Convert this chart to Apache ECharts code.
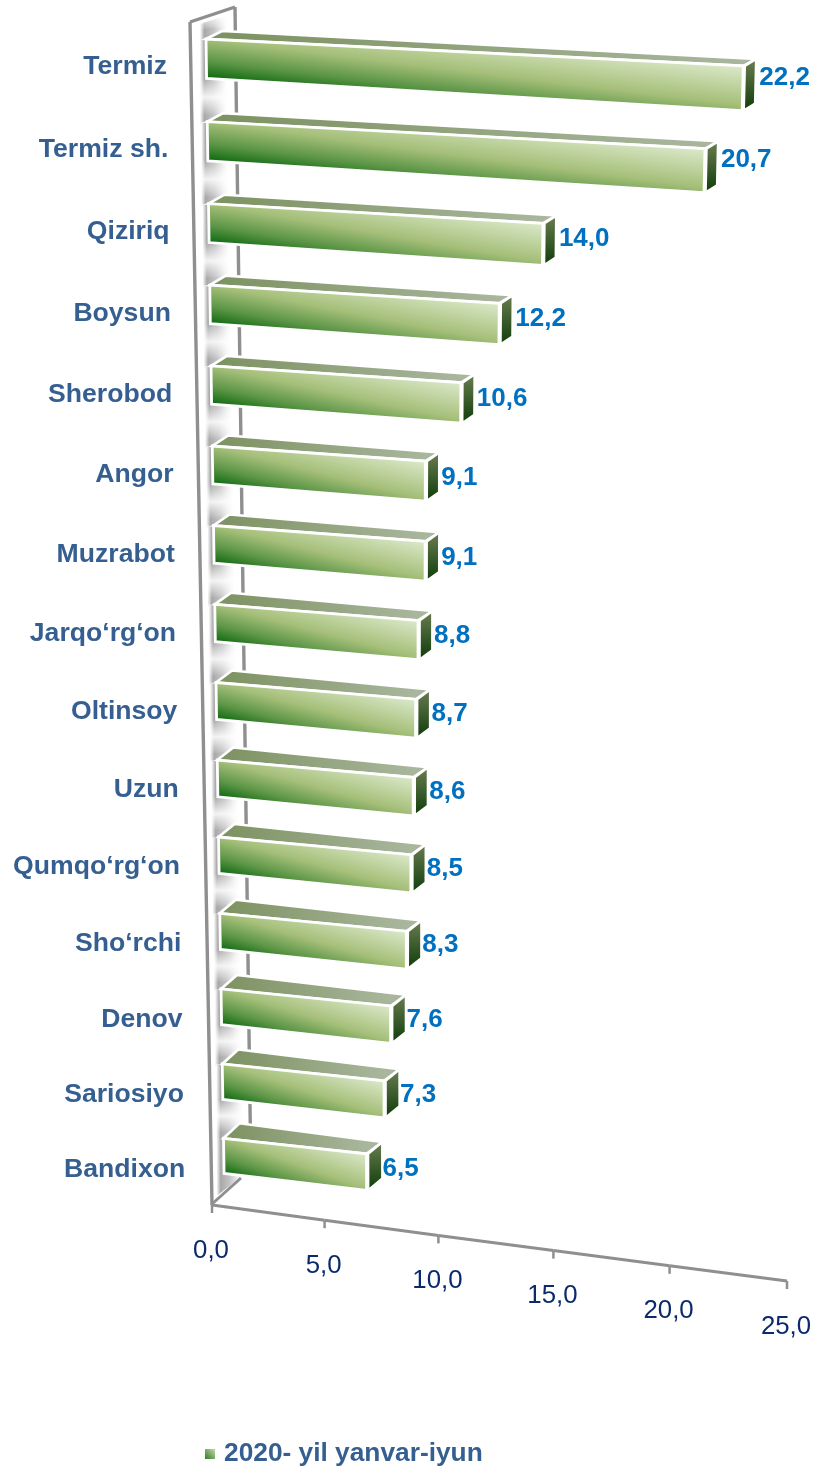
<!DOCTYPE html>
<html><head><meta charset="utf-8">
<style>html,body{margin:0;padding:0;background:#fff}#c{width:816px;height:1466px}</style>
<script src="https://cdn.jsdelivr.net/npm/echarts@6/dist/echarts.min.js"></script>
</head><body><div id="c"></div>
<script>
const categories = ['Termiz','Termiz sh.','Qiziriq','Boysun','Sherobod','Angor','Muzrabot','Jarqo‘rg‘on','Oltinsoy','Uzun','Qumqo‘rg‘on','Sho‘rchi','Denov','Sariosiyo','Bandixon'];
const values = [22.2,20.7,14.0,12.2,10.6,9.1,9.1,8.8,8.7,8.6,8.5,8.3,7.6,7.3,6.5];
const axisTicks = [0,5,10,15,20,25];
const tickLabels = ['0,0','5,0','10,0','15,0','20,0','25,0'];
const seriesName = '2020- yil yanvar-iyun';
const AX_MAX = 25, W = 816, H = 1466, BAR_H = 0.476;

const FONT = 'Liberation Sans, Arial, sans-serif';
const fmt = v => v.toFixed(1).replace('.', ',');

// the category/value scales give (v, row); this lays them on the tilted plane
function toPlane(pt){ return [pt[0]/W*AX_MAX, pt[1]/H*categories.length - 0.5]; }
function rowLeft(r){ return 206 + 1.25*r; }
function rowTop(r){ return 39 + 83*r - 0.32*r*r; }
function proj(v, r, extra){
  const k = 24.2 - 0.157*r, s = 0.05 + 0.0042*r + (extra||0);
  return [rowLeft(r) + v*k, rowTop(r) + v*k*s];
}
function grad(x,y,x2,y2,stops){
  return {type:'linear',global:true,x,y,x2,y2,colorStops:stops.map(s=>({offset:s[0],color:s[1]}))};
}
function poly(points, fill, stroke, lw){
  return {type:'polygon',shape:{points},style:{fill,stroke:stroke||null,lineWidth:lw||0,lineJoin:'miter'},silent:true};
}
function line(a,b,color,lw){
  return {type:'line',shape:{x1:a[0],y1:a[1],x2:b[0],y2:b[1]},style:{stroke:color,lineWidth:lw},silent:true};
}
function text(str,x,y,fill,font,align){
  return {type:'text',style:{text:str,x,y,fill,font,textAlign:align||'left',textVerticalAlign:'middle'},silent:true};
}
const GRAY = '#8f8f8f';
const ribbonStops = [[0,'#ffffff'],[0.16,'#a8a8a8'],[0.5,'#c4c4c4'],[0.82,'#eeeeee'],[1,'#ffffff']];

function ribbonChunk(i, y1, y2, skewTop){
  const xl = rowLeft(i)-6, xr = xl+27;
  return poly([[xl,y1],[xr,y1+skewTop],[xr,y2],[xl,y2]], grad(xl,0,xr,0,ribbonStops));
}
function gapBand(xl, yMid, half){
  const xr = xl+28, sk=-4;
  return poly([[xl-1,yMid-half],[xr,yMid-half+sk],[xr,yMid+half+sk],[xl-1,yMid+half]],
    grad(xl,yMid-half,xl,yMid+half,[[0,'rgba(255,255,255,0)'],[0.5,'rgba(255,255,255,0.85)'],[1,'rgba(255,255,255,0)']]));
}
function renderWall(params, api){
  if(params.dataIndex!==0) return;
  const ch=[];
  const n=categories.length;
  const x0=rowLeft(0)-6;
  ch.push(ribbonChunk(0, 24, rowTop(0)+2, -9));
  ch.push(poly([[x0-1,12],[x0+28,12],[x0+28,26],[x0-1,30]],grad(0,14,0,30,[[0,'#ffffff'],[1,'rgba(255,255,255,0)']])));
  for(let i=0;i<n-1;i++){
    ch.push(ribbonChunk(i, rowTop(i), rowTop(i+1)+2, 0));
    const yb=rowTop(i+BAR_H), yt=rowTop(i+1)-6;
    ch.push(gapBand(rowLeft(i)-6,(yb+yt)/2,(yt-yb)/2));
  }
  const xl=rowLeft(n-1)-7;
  ch.push(poly([[xl,rowTop(n-1)],[xl+26,rowTop(n-1)],[xl+26,1176],[xl,1196]],grad(xl,0,xl+26,0,ribbonStops)));
  ch.push(line([190,22],[212,1205],GRAY,3.4));
  ch.push(line([190,22],[235,7],GRAY,3.4));
  ch.push(line([235,7],[251,1178],GRAY,3.4));
  ch.push(line([212,1204],[241,1178],GRAY,3));
  return {type:'group',children:ch};
}

function axisPoint(v){ return [212 + 22.4*v + 0.024*v*v, 1205 + 3.04*v]; }
function renderAxis(params, api){
  const v = toPlane(api.coord([api.value(0),0]))[0];
  const i = params.dataIndex, p = axisPoint(v), ch=[line(p,[p[0],p[1]+8],GRAY,2.5)];
  if(i<axisTicks.length-1) ch.push(line(p,axisPoint(axisTicks[i+1]),GRAY,3));
  ch.push(text(tickLabels[i],p[0]-1,p[1]+45.5,'#0A2A6B','25.8px '+FONT,'center'));
  return {type:'group',children:ch};
}

function renderBar(params, api){
  const q = toPlane(api.coord([api.value(0),api.value(1)]));
  const v=q[0], r=q[1], i=params.dataIndex;
  const TL=proj(0,r), TR=proj(v,r), BL=proj(0,r+BAR_H), BR=proj(v,r+BAR_H,0.008);
  const dL=[16,-(8+0.5*r)], dR=[13+0.2*r,-(7+0.35*r)];
  const SR=[TR[0]+1.5,TR[1]], SRB=[BR[0]+1.5,BR[1]];
  const bTL=[TL[0]+dL[0],TL[1]+dL[1]], bTR=[TR[0]+dR[0],TR[1]+dR[1]], bBR=[BR[0]+dR[0],BR[1]+dR[1]];
  const ww=TR[0]-TL[0], hh=BL[1]-TL[1], sl=(TR[1]-TL[1])/ww;
  const a=0.5/ww+0.5*sl/hh, b=-0.5/hh, n2=a*a+b*b;
  const front=grad(BL[0],BL[1],BL[0]+a/n2,BL[1]+b/n2,[[0,'#0d680f'],[0.22,'#5b9546'],[0.5,'#a5bf79'],[1,'#dce9cb']]);
  const top=grad(TL[0],0,TR[0],0,[[0,'#7c9160'],[1,'#a9b69d']]);
  const side=grad(0,bTR[1],0,BR[1],[[0,'#6a7d50'],[1,'#0f3c0a']]);
  const W1='#ffffff';
  return {type:'group',children:[
    poly([TL,bTL,bTR,TR],top,W1,2.6),
    poly([SR,bTR,bBR,SRB],side,W1,2.6),
    poly([TL,TR,BR,BL],front,W1,2.8),
    text(categories[i],167+1.3*r,rowTop(r)+27.5+0.25*r,'#365F91','bold 26.6px '+FONT,'right'),
    text(fmt(api.value(0)),TR[0]+16,rowTop(r)+27+0.55*v,'#0070C0','bold 26px '+FONT,'left')
  ]};
}

const chart = echarts.init(document.getElementById('c'),null,{width:W,height:H});
chart.setOption({
  animation:false,
  tooltip:{show:false},
  grid:{left:0,top:0,right:0,bottom:0,containLabel:false},
  xAxis:{type:'value',min:0,max:AX_MAX,show:false},
  yAxis:{type:'category',inverse:true,data:categories,show:false},
  legend:{data:[seriesName],left:200,top:1436,icon:'rect',itemWidth:10,itemHeight:10,padding:[5,5],
    selectedMode:false,textStyle:{color:'#365F91',fontFamily:FONT,fontWeight:'bold',fontSize:26.3,padding:[0,0,0,4]}},
  series:[
    {type:'custom',renderItem:renderWall,clip:false,silent:true,data:values.map((v,i)=>[0,i]),encode:{x:0,y:1},z:1},
    {type:'custom',renderItem:renderAxis,clip:false,silent:true,data:axisTicks.map(t=>[t,0]),encode:{x:0,y:1},z:2},
    {type:'custom',name:seriesName,renderItem:renderBar,clip:false,silent:true,
     itemStyle:{color:{type:'linear',x:0,y:1,x2:1,y2:0,colorStops:[{offset:0,color:'#2f7d2a'},{offset:1,color:'#c4d8a8'}]}},
     data:values.map((v,i)=>[v,i]),encode:{x:0,y:1},z:3}
  ]
});
</script></body></html>
